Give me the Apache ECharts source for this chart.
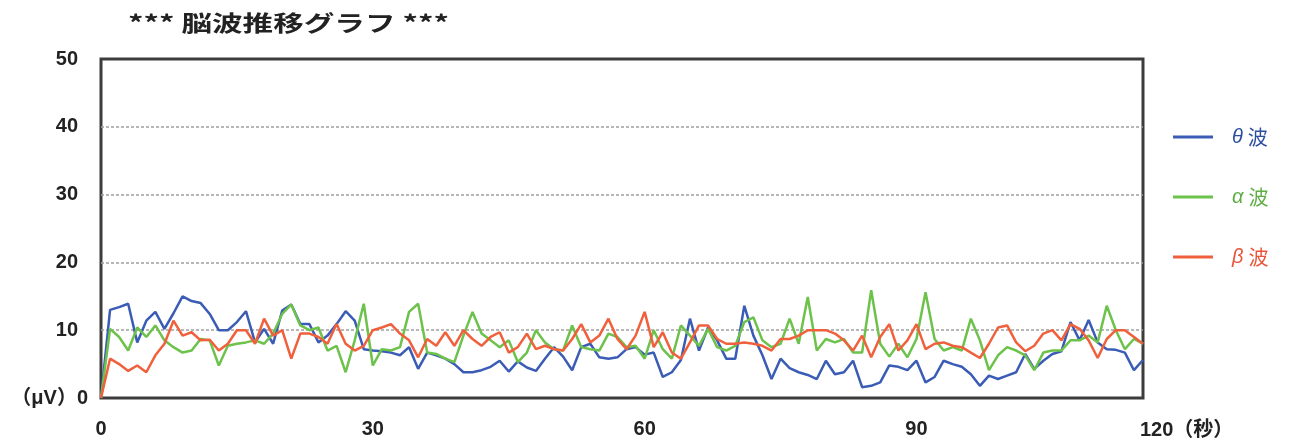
<!DOCTYPE html>
<html><head><meta charset="utf-8">
<script src="https://cdn.jsdelivr.net/npm/echarts@6/dist/echarts.min.js"></script>
<style>html,body{margin:0;padding:0;background:#fff}#c{width:1295px;height:445px}</style>
</head><body><div id="c"></div>
<script>
const titleText = '*** 脳波推移グラフ ***';
const seriesNames = ['θ波', 'α波', 'β波'];
// one value per second (µV)
const theta = [0,13.0,13.4,13.9,8.2,11.4,12.7,10.2,12.5,15.0,14.3,14.0,12.4,10.0,10.0,11.2,12.8,8.2,10.2,8.0,
  12.9,13.8,10.9,10.9,8.2,9.2,10.9,12.8,11.4,7.2,7.0,6.9,6.7,6.3,7.5,4.3,6.7,6.3,5.8,5.0,
  3.8,3.8,4.1,4.6,5.5,3.9,5.4,4.5,4.0,5.8,7.5,6.1,4.1,7.5,8.0,6.0,5.8,6.0,7.2,7.5,
  6.4,6.7,3.1,3.8,5.6,11.7,7.0,10.4,8.5,5.8,5.8,13.6,9.2,6.3,2.8,5.8,4.4,3.8,3.4,2.8,
  5.5,3.5,3.8,5.5,1.6,1.8,2.3,4.8,4.6,4.1,5.5,2.3,3.1,5.5,5.0,4.6,3.5,1.8,3.3,2.8,
  3.3,3.8,6.5,4.3,5.5,6.5,6.9,11.2,8.5,11.5,8.2,7.2,7.1,6.7,4.1,5.6];
const alpha = [0,10.2,9.0,7.0,10.4,9.0,10.7,8.5,7.5,6.7,7.0,8.7,8.5,4.8,7.7,8.0,8.2,8.5,8.0,9.5,
  12.4,13.8,10.7,10.0,10.4,7.0,7.7,3.8,8.5,13.9,4.8,7.2,7.0,7.5,12.7,13.9,6.7,6.5,5.8,5.3,
  9.2,12.7,9.5,8.5,7.5,8.5,5.3,6.7,10.0,8.2,7.2,7.0,10.7,7.5,7.2,7.0,9.5,9.0,7.5,7.7,
  5.8,10.0,7.2,5.8,10.7,9.2,7.7,10.2,7.5,7.0,7.7,11.2,11.9,8.5,7.5,8.0,11.7,8.0,14.9,7.0,
  8.7,8.2,8.7,6.7,6.7,15.9,8.0,6.1,8.0,6.0,8.7,15.6,8.7,7.0,7.5,7.0,11.7,8.5,4.1,6.3,
  7.5,7.0,6.3,4.1,6.7,7.0,7.0,8.5,8.5,9.2,8.2,13.6,10.0,7.2,8.7,8.0];
const beta = [0,5.8,5.0,4.0,4.8,3.8,6.3,8.0,11.4,9.2,9.7,8.5,8.6,7.0,8.0,10.0,10.0,8.0,11.7,9.2,
  10.0,5.8,9.5,9.5,9.0,8.0,10.9,8.0,7.0,7.7,10.0,10.4,10.9,9.5,8.5,6.0,8.7,7.7,9.7,7.7,
  10.0,8.7,7.7,9.0,9.7,6.7,7.5,9.5,7.2,7.7,7.2,7.0,8.7,10.9,8.2,9.2,11.7,8.7,7.2,9.2,
  12.7,7.5,9.7,6.7,5.8,8.2,10.7,10.7,8.7,8.0,8.0,8.2,8.0,7.7,7.0,8.7,8.7,9.2,10.0,10.0,
  10.0,9.5,8.5,7.0,9.2,6.0,9.0,10.9,7.0,8.5,10.9,7.2,8.0,8.2,7.7,7.5,6.7,5.9,8.0,10.4,
  10.7,8.2,6.9,7.7,9.5,10.0,8.5,10.9,10.2,8.5,5.9,8.7,10.0,10.0,9.0,8.0];
const yTicks = [0, 10, 20, 30, 40, 50];
const yZeroLabel = '（μV）0';
const xTicks = [0, 30, 60, 90];
const xEndLabel = '120（秒）';

const colors = ['#3a5cb4', '#6cc24a', '#f0603c'];
const legendColors = ['#2d4f9f', '#5fae45', '#e8553a'];
const FONT = '"Liberation Sans", "Noto Sans CJK JP", sans-serif';
const lastX = theta.length - 1;

const chart = echarts.init(document.getElementById('c'), null, {renderer: 'canvas'});
const toPairs = arr => arr.map((v, i) => [i, v]);
const legendRich = c => ({
  g: {fontStyle: 'italic', fontSize: 20, fontFamily: FONT, color: c, padding: [0, 5, 0, 14]},
  w: {fontSize: 20, fontFamily: '"Noto Sans CJK JP", sans-serif', color: c}
});

chart.setOption({
  animation: false,
  backgroundColor: '#fff',
  graphic: [{
    type: 'text', left: 128, top: 12, scaleX: 1.39,
    style: {text: titleText, fontSize: 22, fontWeight: 'bold', fontFamily: '"Noto Sans CJK JP", sans-serif', fill: '#222'}
  }],
  grid: {left: 101, right: 152, top: 59, bottom: 47, show: true, borderColor: '#3c3c3c', borderWidth: 3, backgroundColor: 'transparent'},
  legend: {
    orient: 'vertical', left: 1168, top: 122, itemGap: 40,
    itemWidth: 40, itemHeight: 3, icon: 'rect',
    formatter: n => '{g|' + n[0] + '}{w|' + n.slice(1) + '}',
    data: seriesNames.map((n, i) => ({name: n, itemStyle: {color: colors[i]}, textStyle: {color: legendColors[i], rich: legendRich(legendColors[i])}}))
  },
  xAxis: {
    type: 'value', min: 0, max: lastX, interval: 30,
    axisLine: {show: false}, axisTick: {show: false}, splitLine: {show: false},
    axisLabel: {
      margin: 21, showMaxLabel: false, fontSize: 20, fontWeight: 'bold', fontFamily: FONT, color: '#222',
      formatter: v => xTicks.includes(v) ? String(v) : ''
    },
    name: xEndLabel, nameLocation: 'end', nameGap: -3,
    nameTextStyle: {fontSize: 20, fontWeight: 'bold', fontFamily: FONT, color: '#222', align: 'left', verticalAlign: 'top', padding: [22, 0, 0, 0]}
  },
  yAxis: {
    type: 'value', min: yTicks[0], max: yTicks[yTicks.length - 1], interval: 10,
    axisLine: {show: false}, axisTick: {show: false},
    splitLine: {show: true, showMinLine: false, showMaxLine: false, lineStyle: {color: '#a0a0a0', width: 1.5, type: [3, 2]}},
    axisLabel: {
      margin: 13, fontSize: 20, fontWeight: 'bold', fontFamily: FONT, color: '#222',
      formatter: v => v === 0 ? '{z|' + yZeroLabel + '}' : '{n|' + v + '}',
      rich: {
        n: {fontSize: 20, fontWeight: 'bold', fontFamily: FONT, color: '#222', padding: [0, 10, 0, 0]},
        z: {fontSize: 20, fontWeight: 'bold', fontFamily: FONT, color: '#222'}
      }
    }
  },
  series: [theta, alpha, beta].map((d, i) => ({
    name: seriesNames[i], type: 'line', data: toPairs(d),
    showSymbol: false, symbol: 'none',
    lineStyle: {color: colors[i], width: 2.5},
    itemStyle: {color: colors[i]}
  }))
});
</script>
</body></html>
